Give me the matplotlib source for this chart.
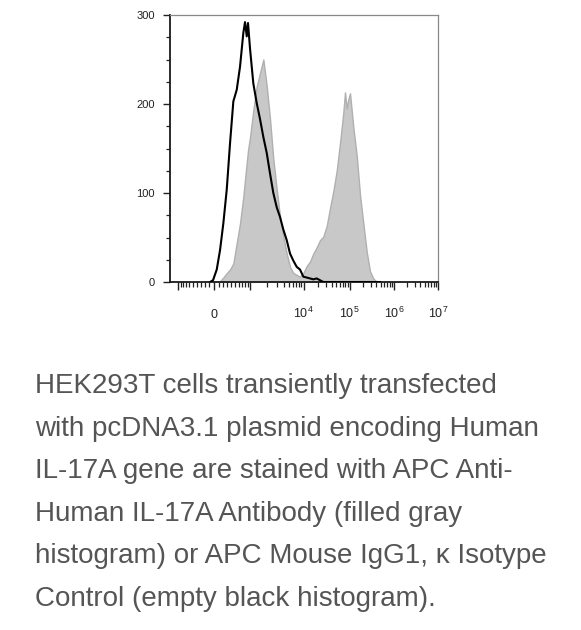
import numpy as np
import matplotlib
matplotlib.use("Agg")
import matplotlib.pyplot as plt
from matplotlib.ticker import FixedLocator, FixedFormatter

plt.rcParams['font.family'] = ['Liberation Sans', 'DejaVu Sans']
plt.rcParams['mathtext.fontset'] = 'custom'
plt.rcParams['mathtext.rm'] = 'Liberation Sans'
plt.rcParams['mathtext.it'] = 'Liberation Sans:italic'
plt.rcParams['mathtext.bf'] = 'Liberation Sans:bold'

# ---------------- data ----------------
# fluorescence intensity (APC) at histogram channels
intensity = [-87, -22, 59, 132, 206, 285, 365, 450, 543, 641, 748, 806, 869, 918,
             1000, 1146, 1316, 1504, 1719, 1973, 2258, 2589, 2985, 3438, 3963,
             4602, 5333, 6190, 7240, 8434, 9855, 11585, 13589, 15950, 18846,
             22178, 26144, 31000, 36600, 43250, 51415, 60840, 72010, 78580,
             85760, 93160, 101680, 120600, 143730, 170500, 202300, 241400,
             286600, 340100, 405900, 482200]

# filled gray histogram: APC Anti-Human IL-17A
il17a_counts = [0, 0, 0, 1, 5, 10, 14, 21, 44, 66, 96, 115, 134, 148,
                163, 193, 220, 235, 250, 220, 183, 138, 104, 73, 51,
                32, 17, 10, 8, 6, 10, 18, 23, 32, 39,
                47, 51, 63, 83, 102, 125, 156, 190, 213,
                195, 205, 212, 174, 142, 98, 66, 34,
                12, 4, 0, 0]

# empty black histogram: APC Mouse IgG1, k isotype control
isotype_counts = [0, 2, 14, 36, 66, 104, 156, 203, 216, 242, 280, 292, 276, 291,
                  262, 223, 201, 183, 163, 145, 122, 100, 84, 73, 59,
                  47, 32, 24, 17, 14, 6, 5, 4, 3, 4,
                  2, 0, 0, 0, 0, 0, 0, 0, 0,
                  0, 0, 0, 0, 0, 0, 0, 0,
                  0, 0, 0, 0]

x_major = [-1000, 0, 1000, 1e4, 1e5, 1e6, 1e7]
x_major_labels = ['', '0', '', r'$\mathregular{10^{4}}$', r'$\mathregular{10^{5}}$',
                  r'$\mathregular{10^{6}}$', r'$\mathregular{10^{7}}$']
x_minor = ([-100 * k for k in range(1, 10)] + [100 * k for k in range(1, 10)] +
           [k * 10 ** n for n in range(3, 7) for k in range(2, 10)])
y_major = [0, 100, 200, 300]
y_minor = [25, 50, 75, 125, 150, 175, 225, 250, 275]
x_limits = (-1390, 1.0e7)
y_limits = (0, 300)

caption_lines = [
    "HEK293T cells transiently transfected",
    "with pcDNA3.1 plasmid encoding Human",
    "IL-17A gene are stained with APC Anti-",
    "Human IL-17A Antibody (filled gray",
    "histogram) or APC Mouse IgG1, \u03ba Isotype",
    "Control (empty black histogram).",
]

# ---------------- biexponential display scale ----------------
BA, BB, BL = 81.0, 0.05233, 13.3
_grid = np.linspace(-120, 300, 40001)
_vals = 2 * BA * np.sinh(BB * _grid) + BL * _grid


def biex_fwd(x):
    return np.interp(np.asarray(x, dtype=float), _vals, _grid)


def biex_inv(y):
    y = np.asarray(y, dtype=float)
    return 2 * BA * np.sinh(BB * y) + BL * y


# ---------------- figure ----------------
W, H = 581, 630
fig = plt.figure(figsize=(W / 100, H / 100), dpi=100)
ax = fig.add_axes([170 / W, 1 - 282 / H, 268 / W, 267 / H])
ax.set_xscale('function', functions=(biex_fwd, biex_inv))

ax.fill_between(intensity, 0, il17a_counts, facecolor='#c8c8c8',
                edgecolor='#b0b0b0', linewidth=1.0, zorder=2)
ax.plot(intensity, isotype_counts, color='black', linewidth=1.5, zorder=3)

ax.set_xlim(*x_limits)
ax.set_ylim(*y_limits)

ax.xaxis.set_major_locator(FixedLocator(x_major))
ax.xaxis.set_major_formatter(FixedFormatter(x_major_labels))
ax.xaxis.set_minor_locator(FixedLocator(x_minor))
ax.yaxis.set_major_locator(FixedLocator(y_major))
ax.yaxis.set_minor_locator(FixedLocator(y_minor))

ax.tick_params(axis='x', which='major', direction='out', length=5.8, width=1.0,
               pad=20.0, labelsize=9, colors='#222222')
ax.tick_params(axis='x', which='minor', direction='out', length=3.6, width=0.9,
               colors='#222222')
ax.tick_params(axis='y', which='major', direction='out', length=5.0, width=1.0,
               pad=6.0, labelsize=8, colors='#222222')
ax.tick_params(axis='y', which='minor', direction='out', length=2.8, width=0.9,
               colors='#222222')
for lab in ax.get_xticklabels():
    lab.set_verticalalignment('baseline')

for side in ('left', 'bottom'):
    ax.spines[side].set_color('#1a1a1a')
    ax.spines[side].set_linewidth(1.3)
for side in ('top', 'right'):
    ax.spines[side].set_color('#888888')
    ax.spines[side].set_linewidth(0.9)

# caption
baseline0, spacing = 393, 42.6
for i, line in enumerate(caption_lines):
    fig.text(35 / W, 1 - (baseline0 + i * spacing) / H, line, fontsize=20,
             color='#555555', ha='left', va='baseline')

fig.savefig('out.png', dpi=100)
